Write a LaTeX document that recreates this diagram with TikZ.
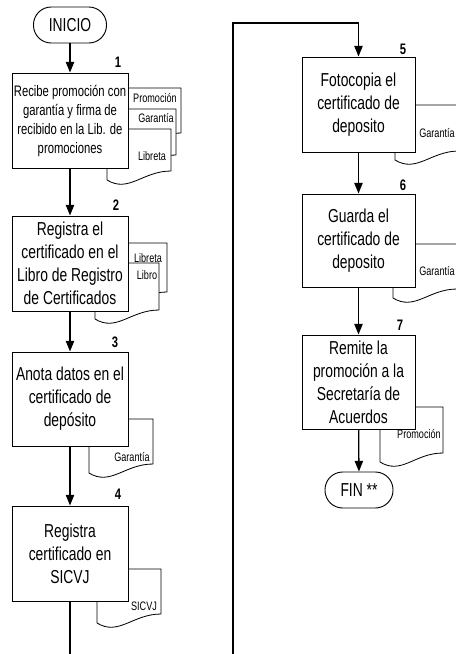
\documentclass[tikz,border=0pt]{standalone}
\usepackage{fontspec}
\setmainfont[FakeStretch=0.74]{Liberation Sans}
\usetikzlibrary{arrows.meta}

\begin{document}
\begin{tikzpicture}[
  proc/.style={draw,fill=white,line width=0.8pt,minimum width=3.480cm,minimum height=2.850cm,align=center,inner sep=1pt,font=\fontsize{16}{19.6}\selectfont},
  term/.style={draw,fill=white,line width=0.8pt,rounded corners=0.53cm,minimum height=1.080cm,font=\fontsize{16}{19.6}\selectfont},
  doc/.style={draw,fill=white,line width=0.7pt},
  doclbl/.style={inner sep=0pt,font=\fontsize{10.5}{12}\selectfont},
  num/.style={inner sep=0pt,font=\fontsize{13}{15}\selectfont\bfseries},
  flow/.style={line width=1.1pt,-{Triangle[length=3.2mm,width=2.5mm]}}
]
\useasboundingbox (0.000,0.000) rectangle (13.680,-19.620);
\clip (0.000,0.000) rectangle (13.680,-19.620);
\draw[doc] (3.000,-2.640) -- (5.430,-2.640) -- (5.430,-3.990) .. controls +(-0.85,0) and +(0.65,-0.40) .. (3.000,-4.260) -- cycle;
\draw[doc] (3.000,-3.270) -- (5.280,-3.270) -- (5.280,-4.650) .. controls +(-0.85,0) and +(0.65,-0.40) .. (3.000,-4.920) -- cycle;
\draw[doc] (3.210,-3.870) -- (5.130,-3.870) -- (5.130,-5.130) .. controls +(-0.85,0) and +(0.65,-0.40) .. (3.210,-5.400) -- cycle;
\draw[doc] (3.000,-7.290) -- (5.010,-7.290) -- (5.010,-8.760) .. controls +(-0.85,0) and +(0.65,-0.40) .. (3.000,-9.030) -- cycle;
\draw[doc] (2.850,-7.890) -- (4.770,-7.890) -- (4.770,-9.300) .. controls +(-0.85,0) and +(0.65,-0.40) .. (2.850,-9.570) -- cycle;
\draw[doc] (2.670,-12.570) -- (4.590,-12.570) -- (4.590,-13.920) .. controls +(-0.85,0) and +(0.65,-0.40) .. (2.670,-14.190) -- cycle;
\draw[doc] (2.910,-17.070) -- (4.830,-17.070) -- (4.830,-18.420) .. controls +(-0.85,0) and +(0.65,-0.40) .. (2.910,-18.690) -- cycle;
\draw[doc] (11.850,-3.150) -- (13.770,-3.150) -- (13.770,-4.530) .. controls +(-0.85,0) and +(0.65,-0.40) .. (11.850,-4.800) -- cycle;
\draw[doc] (11.790,-7.320) -- (13.710,-7.320) -- (13.710,-8.670) .. controls +(-0.85,0) and +(0.65,-0.40) .. (11.790,-8.940) -- cycle;
\draw[doc] (11.400,-12.210) -- (13.290,-12.210) -- (13.290,-13.590) .. controls +(-0.85,0) and +(0.65,-0.40) .. (11.400,-13.860) -- cycle;
\node[doclbl] (l1a) at (4.650,-2.940) {Promoción};
\node[doclbl] (l1b) at (4.680,-3.540) {Garantía};
\node[doclbl] (l1c) at (4.560,-4.680) {Libreta};
\node[doclbl] (l2a) at (4.440,-7.740) {Libreta};
\node[doclbl] (l2b) at (4.410,-8.250) {Libro};
\node[doclbl] (l3) at (3.960,-13.710) {Garantía};
\node[doclbl] (l4) at (4.320,-18.180) {SICVJ};
\node[doclbl] (l5) at (13.110,-3.990) {Garantía};
\node[doclbl] (l6) at (13.110,-8.130) {Garantía};
\node[doclbl] (l7) at (12.570,-13.020) {Promoción};
\node[term,minimum width=2.190cm] (ini) at (2.100,-0.750) {INICIO};
\node[proc,font=\fontsize{13}{16.2}\selectfont] (b1) at (2.100,-3.615) {Recibe promoción con\\garantía y firma de\\recibido en la Lib. de\\promociones};
\node[proc] (b2) at (2.100,-7.905) {Registra el\\certificado en el\\Libro de Registro\\de Certificados};
\node[proc,minimum height=2.820cm] (b3) at (2.100,-11.970) {Anota datos en el\\certificado de\\depósito};
\node[proc] (b4) at (2.100,-16.605) {Registra\\certificado en\\SICVJ};
\node[proc,minimum width=3.390cm] (b5) at (10.755,-3.135) {Fotocopia el\\certificado de\\deposito};
\node[proc,minimum width=3.390cm,minimum height=2.790cm] (b6) at (10.755,-7.215) {Guarda el\\certificado de\\deposito};
\node[proc,minimum width=3.390cm,minimum height=2.820cm] (b7) at (10.755,-11.460) {Remite la\\promoción a la\\Secretaría de\\Acuerdos};
\node[term,minimum width=2.040cm] (fin) at (10.770,-14.700) {FIN **};
\node[num] (n1) at (3.540,-1.860) {1};
\node[num] (n2) at (3.480,-6.150) {2};
\node[num] (n3) at (3.450,-10.260) {3};
\node[num] (n4) at (3.540,-14.820) {4};
\node[num] (n5) at (12.090,-1.470) {5};
\node[num] (n6) at (12.090,-5.550) {6};
\node[num] (n7) at (12.000,-9.750) {7};
\draw[flow] (ini) -- (b1);
\draw[flow] (b1) -- (b2);
\draw[flow] (b2) -- (b3);
\draw[flow] (b3) -- (b4);
\coordinate (e4) at (2.100,-19.620);
\draw[line width=1.1pt] (b4) -- (e4);
\coordinate (e5) at (6.990,-19.620);
\coordinate (t5) at (6.990,-0.690);
\draw[flow] (e5) -- (t5) -| (b5.north);
\draw[flow] (b5) -- (b6);
\draw[flow] (b6) -- (b7);
\draw[flow] (b7) -- (fin);
\end{tikzpicture}
\end{document}
